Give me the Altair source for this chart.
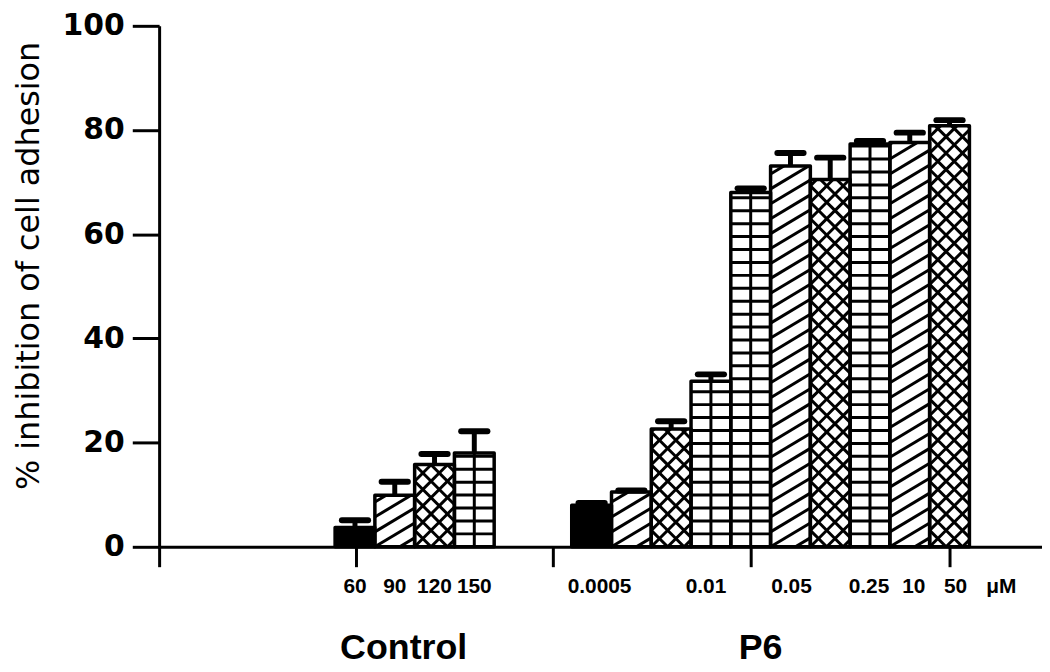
import altair as alt
import pandas as pd

# ---------------- data ----------------
control_doses = ["60", "90", "120", "150"]
control_values = [3.7, 9.9, 15.8, 18.0]
control_errors = [1.4, 2.6, 2.0, 4.2]
control_patterns = ["solid", "diagonal", "cross", "grid"]

p6_values = [8.0, 10.5, 22.6, 31.8, 68.0, 73.1, 70.5, 77.3, 77.6, 80.8]
p6_errors = [0.4, 0.3, 1.5, 1.3, 0.8, 2.5, 4.2, 0.6, 1.9, 1.1]
p6_patterns = ["solid", "diagonal", "cross", "grid", "grid",
               "diagonal", "cross", "grid", "diagonal", "cross"]
p6_doses = ["0.0005", "0.01", "0.05", "0.25", "10", "50", "μM"]

group_names = ["Control", "P6"]
y_ticks = [0, 20, 40, 60, 80, 100]
y_title = "% inhibition of cell adhesion"

# ---------------- layout (x measured in bar widths) ----------------
control_pos = [4.925, 5.925, 6.925, 7.925]
p6_pos = [10.875 + i for i in range(10)]
p6_label_pos = [11.075, 13.75, 15.9, 17.85, 18.975, 20.025, 21.175]
group_label_pos = [6.15, 15.125]
x_tick_pos = [0, 4.95, 9.9, 14.875, 19.875]

W, H = 888, 524
PX = 40.0              # pixels per bar width
PY = H / 100.0         # pixels per % unit
X_MAX = W / PX

fill_colors = {"solid": "black", "diagonal": "white", "cross": "white", "grid": "white"}

pos = control_pos + p6_pos
vals = control_values + p6_values
errs = control_errors + p6_errors
pats = control_patterns + p6_patterns

bars = pd.DataFrame({
    "xc": pos,
    "x0": [p - 0.5 for p in pos],
    "x1": [p + 0.5 for p in pos],
    "base": [0.0] * len(pos),
    "value": vals,
    "top": [v + e for v, e in zip(vals, errs)],
    "c0": [p - 0.33 for p in pos],
    "c1": [p + 0.33 for p in pos],
    "fill": [fill_colors[p] for p in pats],
})


# ---------------- hatching (pattern styling derived from each bar) ----------------
def clip_lines(xl, w, h, slope, period):
    segs = []
    lo = min(0.0, -slope * w) - period
    hi = h + abs(slope) * w + period
    k = int(lo // period) - 1
    while k * period <= hi:
        c = k * period
        k += 1
        if slope > 0:
            u_lo, u_hi = (0 - c) / slope, (h - c) / slope
        else:
            u_lo, u_hi = (h - c) / slope, (0 - c) / slope
        u_lo, u_hi = max(0.0, u_lo), min(w, u_hi)
        if u_hi - u_lo > 0.5:
            segs.append((xl + u_lo, slope * u_lo + c, xl + u_hi, slope * u_hi + c))
    return segs


rows = []
for xc, v, pat in zip(pos, vals, pats):
    xl = (xc - 0.5) * PX
    w = PX
    h = v * PY
    segs = []
    if pat == "diagonal":
        segs = clip_lines(xl, w, h, 0.6, 15.0)
    elif pat == "cross":
        segs = clip_lines(xl, w, h, 1.0, 16.5) + clip_lines(xl, w, h, -1.0, 16.5)
    elif pat == "grid":
        yy = 13.0
        while yy < h - 2:
            segs.append((xl, yy, xl + w, yy))
            yy += 13.0
        segs.append((xl + w / 2, 0.0, xl + w / 2, h))
    for (a, b, c, d) in segs:
        rows.append({"hx0": a / PX, "hy0": b / PY, "hx1": c / PX, "hy1": d / PY})
hatch = pd.DataFrame(rows)

# ---------------- scales / axes ----------------
x_scale = alt.Scale(domain=[0, X_MAX], nice=False, zero=False)
y_scale = alt.Scale(domain=[0, 100], nice=False)

x_axis = alt.Axis(values=x_tick_pos, labels=False, title=None, grid=False,
                  tickSize=20, tickWidth=3, domainWidth=3,
                  tickColor="black", domainColor="black")
y_axis = alt.Axis(values=y_ticks, grid=False, title=y_title,
                  tickSize=27, tickWidth=3, domainWidth=3,
                  tickColor="black", domainColor="black",
                  labelFont="DejaVu Sans", labelFontWeight="bold",
                  labelFontSize=30, labelColor="black", labelPadding=8,
                  titleFont="DejaVu Sans", titleFontWeight="normal",
                  titleFontSize=32, titleColor="black", titleAngle=270,
                  titleX=-121, titleY=241, titleAlign="center",
                  titleBaseline="alphabetic")


def X(f):
    return alt.X(f"{f}:Q", scale=x_scale, axis=x_axis)


def Y(f):
    return alt.Y(f"{f}:Q", scale=y_scale, axis=y_axis)


fill_layer = alt.Chart(bars).mark_rect(strokeWidth=0).encode(
    x=X("x0"), x2="x1", y=Y("base"), y2="value",
    fill=alt.Fill("fill:N", scale=None))

hatch_layer = alt.Chart(hatch).mark_rule(strokeWidth=3, color="black").encode(
    x=X("hx0"), x2="hx1", y=Y("hy0"), y2="hy1")

outline_layer = alt.Chart(bars).mark_rect(
    fillOpacity=0, stroke="black", strokeWidth=3.5, strokeJoin="round").encode(
    x=X("x0"), x2="x1", y=Y("base"), y2="value")

stem_layer = alt.Chart(bars).mark_rule(strokeWidth=5, color="black").encode(
    x=X("xc"), y=Y("value"), y2="top")

cap_layer = alt.Chart(bars).mark_rule(strokeWidth=6, color="black", strokeCap="round").encode(
    x=X("c0"), x2="c1", y=Y("top"))

dose_df = pd.DataFrame({
    "pos": control_pos + p6_label_pos,
    "label": control_doses + p6_doses,
})
dose_layer = alt.Chart(dose_df).mark_text(
    font="Liberation Sans", fontWeight="bold", fontSize=21, color="black",
    baseline="middle", align="center").encode(
    x=X("pos"), y=alt.value(564), text="label:N")

group_df = pd.DataFrame({"pos": group_label_pos, "label": group_names})
group_layer = alt.Chart(group_df).mark_text(
    font="Liberation Sans", fontWeight="bold", fontSize=36, color="black",
    baseline="middle", align="center").encode(
    x=X("pos"), y=alt.value(626), text="label:N")

chart = alt.layer(
    fill_layer, hatch_layer, outline_layer, stem_layer, cap_layer,
    dose_layer, group_layer
).properties(
    width=W, height=H,
    autosize=alt.AutoSizeParams(type="none"),
    padding={"left": 152, "top": 16, "right": 0, "bottom": 126},
    background="white",
).configure_view(stroke=None)

chart.save("out.html", embed_options={"renderer": "svg", "actions": False})
